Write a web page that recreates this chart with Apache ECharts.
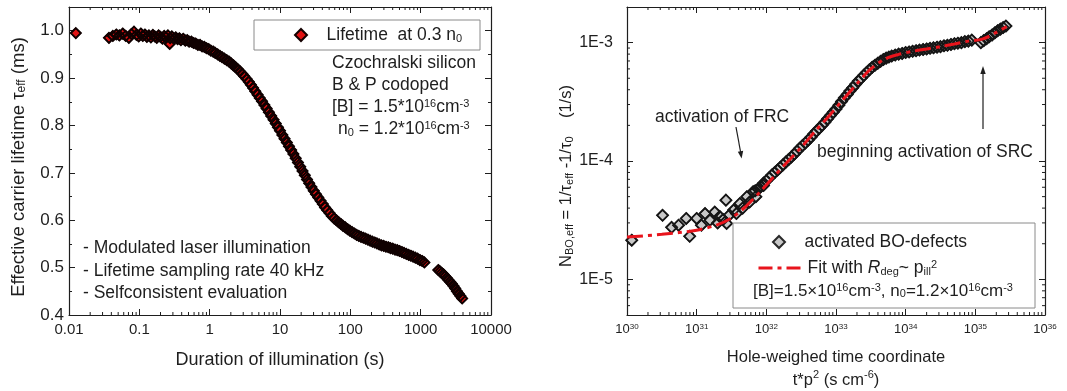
<!DOCTYPE html>
<html><head><meta charset="utf-8">
<script src="https://cdn.jsdelivr.net/npm/echarts@6/dist/echarts.min.js"></script>
<style>html,body{margin:0;padding:0;background:#fff}#c{width:1067px;height:391px}</style>
</head><body><div id="c"></div>
<script>
// ---------- DATA ----------
const leftTime = [0.0125,0.037,0.042,0.047,0.052,0.058,0.064,0.071,0.077,0.084,0.091,0.098,0.105,0.112,0.12,0.128,0.137,0.146,0.156,0.166,0.177,0.188,0.2,0.213,0.226,0.24,0.255,0.27,0.275,0.29,0.31,0.33,0.35,0.37,0.39,0.42,0.45,0.48,0.51,0.55,0.59,0.63,0.68,0.73,0.78,0.84,0.9,0.97,1.04,1.12,1.2,1.3,1.4,1.5,1.62,1.75,1.88,2.02,2.17,2.33,2.5,2.7,2.9,3.1,3.35,3.6,3.85,4.15,4.45,4.8,5.15,5.55,6.0,6.45,6.95,7.5,8.1,8.7,9.35,10.0,10.8,11.6,12.5,13.4,14.4,15.5,16.7,18.0,19.4,20.9,22.5,24.2,26.0,28.0,30.2,32.5,35.0,37.7,40.6,43.7,47.0,50.6,54.5,58.7,63.2,68.0,73.2,78.8,84.9,91.4,98.4,106,114,123,132,142,153,165,178,191,206,222,239,257,277,298,321,346,372,401,432,465,500,540,580,625,675,725,780,840,905,975,1050,1130,1780,1880,1990,2100,2220,2350,2480,2620,2770,2930,3100,3280,3470,3670,3890];
const leftLifetime = [0.995,0.985,0.989,0.992,0.990,0.994,0.989,0.985,0.993,0.998,0.991,0.988,0.994,0.989,0.992,0.987,0.990,0.986,0.991,0.988,0.985,0.990,0.987,0.983,0.989,0.986,0.990,0.972,0.984,0.988,0.983,0.986,0.982,0.984,0.980,0.983,0.979,0.980,0.977,0.977,0.974,0.973,0.970,0.970,0.967,0.966,0.963,0.961,0.958,0.956,0.953,0.950,0.947,0.944,0.941,0.938,0.935,0.931,0.927,0.923,0.919,0.914,0.909,0.904,0.898,0.892,0.886,0.879,0.872,0.865,0.858,0.851,0.843,0.836,0.828,0.820,0.812,0.804,0.796,0.789,0.780,0.772,0.764,0.756,0.748,0.740,0.731,0.722,0.713,0.704,0.695,0.686,0.678,0.670,0.662,0.655,0.648,0.641,0.634,0.627,0.621,0.615,0.609,0.604,0.600,0.596,0.592,0.588,0.585,0.581,0.578,0.575,0.572,0.569,0.567,0.565,0.563,0.561,0.559,0.557,0.555,0.553,0.551,0.549,0.547,0.546,0.544,0.543,0.541,0.540,0.538,0.537,0.535,0.533,0.531,0.529,0.527,0.525,0.523,0.521,0.519,0.516,0.514,0.511,0.495,0.492,0.489,0.486,0.482,0.478,0.474,0.470,0.466,0.461,0.456,0.450,0.445,0.440,0.435];

const rightX = [1.17e30,3.24e30,4.37e30,5.5e30,7.08e30,7.94e30,1.0e31,1.17e31,1.32e31,1.55e31,1.82e31,2.0e31,2.14e31,2.4e31,2.63e31,2.69e31,2.95e31,3.39e31,3.72e31,4.17e31,4.57e31,5.25e31,5.75e31,6.46e31,7.08e31,7.94e31,9.12e31,
6.92e31,7.59e31,8.32e31,9.12e31,1.0e32,1.1e32,1.2e32,1.32e32,1.45e32,1.58e32,1.74e32,1.91e32,2.09e32,2.29e32,2.51e32,2.75e32,3.02e32,3.31e32,3.63e32,3.98e32,4.37e32,4.79e32,5.25e32,5.75e32,6.31e32,6.92e32,7.59e32,8.32e32,9.12e32,
1.0e33,1.1e33,1.2e33,1.32e33,1.45e33,1.58e33,1.74e33,1.91e33,2.09e33,2.29e33,2.51e33,2.75e33,3.02e33,3.31e33,3.63e33,3.98e33,4.37e33,4.79e33,5.25e33,5.75e33,6.31e33,7.08e33,7.94e33,8.91e33,
1.0e34,1.12e34,1.26e34,1.41e34,1.58e34,1.78e34,2.0e34,2.24e34,2.51e34,2.82e34,3.16e34,3.55e34,3.98e34,4.47e34,5.01e34,5.62e34,6.31e34,7.08e34,7.94e34,8.91e34,
1.2e35,1.32e35,1.45e35,1.58e35,1.74e35,1.91e35,2.09e35,2.29e35,2.51e35,2.75e35];
const rightY = [2.14e-5,3.48e-5,2.75e-5,2.87e-5,3.27e-5,2.31e-5,3.27e-5,2.87e-5,3.6e-5,3.16e-5,3.7e-5,3.0e-5,3.4e-5,3.2e-5,4.67e-5,2.97e-5,3.5e-5,3.85e-5,3.6e-5,4.38e-5,4.0e-5,4.99e-5,4.5e-5,5.5e-5,5.0e-5,5.9e-5,6.2e-5,
5.6e-5,5.8e-5,6.1e-5,6.5e-5,6.8e-5,7.2e-5,7.6e-5,8.0e-5,8.4e-5,8.8e-5,9.3e-5,9.8e-5,1.03e-4,1.08e-4,1.14e-4,1.21e-4,1.28e-4,1.35e-4,1.42e-4,1.5e-4,1.59e-4,1.69e-4,1.79e-4,1.89e-4,2.0e-4,2.13e-4,2.27e-4,2.42e-4,2.58e-4,
2.75e-4,2.96e-4,3.18e-4,3.42e-4,3.65e-4,3.9e-4,4.16e-4,4.44e-4,4.73e-4,5.0e-4,5.3e-4,5.6e-4,5.9e-4,6.2e-4,6.45e-4,6.7e-4,6.95e-4,7.2e-4,7.4e-4,7.55e-4,7.7e-4,7.85e-4,8.0e-4,8.1e-4,
8.25e-4,8.35e-4,8.45e-4,8.55e-4,8.65e-4,8.75e-4,8.85e-4,8.95e-4,9.05e-4,9.15e-4,9.25e-4,9.4e-4,9.5e-4,9.65e-4,9.8e-4,9.9e-4,1.0e-3,1.02e-3,1.03e-3,1.05e-3,
1.0e-3,1.04e-3,1.08e-3,1.12e-3,1.16e-3,1.21e-3,1.26e-3,1.3e-3,1.34e-3,1.38e-3];

const fitX = [1e30,3.16e30,1e31,2e31,3.16e31,5e31,7.94e31,1.26e32,2e32,3.16e32,5e32,7.94e32,1.26e33,2e33,3.16e33,5e33,7.94e33,1.26e34,2e34,3.16e34,5e34,7.94e34,1.26e35,2e35,2.82e35];
const fitY = [2.28e-5,2.4e-5,2.6e-5,2.9e-5,3.3e-5,4.1e-5,5.4e-5,7.3e-5,9.8e-5,1.3e-4,1.78e-4,2.4e-4,3.3e-4,4.5e-4,6.0e-4,7.25e-4,7.95e-4,8.45e-4,8.85e-4,9.25e-4,9.75e-4,1.03e-3,1.07e-3,1.22e-3,1.37e-3];

const leftXTickLabels = ['0.01','0.1','1','10','100','1000','10000'];   // 10^-2 .. 10^4
const leftYTickLabels = ['0.4','0.5','0.6','0.7','0.8','0.9','1.0'];
const rightXTickExps = [30,31,32,33,34,35,36];
const rightYTickLabels = {'-5':'1E-5','-4':'1E-4','-3':'1E-3'};

// ---------- STYLE ----------
const FONT = '"Liberation Sans", Arial, sans-serif';
const AX = '#1e1e1e';
const TXT = '#1e1e1e';
const TFS = 17.5; // annotation font size
const RED = '#e8141c';

function logMinor(e0, e1, lo, hi) {
  const out = [];
  for (let e = e0; e <= e1; e++) for (let m = 2; m <= 9; m++) {
    const v = m * Math.pow(10, e);
    if (v > lo && v < hi) out.push(v);
  }
  return out;
}
const leftXMinor = logMinor(-2, 3, 0.01, 10000);
const rightXMinor = logMinor(30, 35, 1e30, 1e36);
const rightYMinor = logMinor(-6, -3, 5e-6, 2e-3);

const richC = (fs) => ({
  sup: {fontSize: Math.round(fs*0.64), fontFamily: FONT, color: TXT, verticalAlign: 'top', padding: [0,0,Math.round(fs*0.2),0]},
  sub: {fontSize: Math.round(fs*0.64), fontFamily: FONT, color: TXT, verticalAlign: 'bottom', padding: [Math.round(fs*0.25),0,0,0]},
  it: {fontSize: fs, fontFamily: FONT, color: TXT, fontStyle: 'italic'}
});
const richG = (fs) => ({
  sup: {font: Math.round(fs*0.64) + 'px ' + FONT, fill: TXT, verticalAlign: 'top', padding: [0,0,Math.round(fs*0.2),0]},
  sub: {font: Math.round(fs*0.64) + 'px ' + FONT, fill: TXT, verticalAlign: 'bottom', padding: [Math.round(fs*0.25),0,0,0]}
});

function isPow(v) { const e = Math.log10(v); return Math.abs(e - Math.round(e)) < 1e-6; }

const tickMaj = {show: true, inside: true, length: 6, lineStyle: {color: AX, width: 1}};
const axLine = {show: true, onZero: false, lineStyle: {color: AX, width: 1.2}};

const chart = echarts.init(document.getElementById('c'), null, {renderer: 'canvas'});

function xMinorRender(params, api) {
  const cs = params.coordSys;
  const x = api.coord([api.value(0), api.value(1)])[0];
  const b = cs.y + cs.height, t = cs.y;
  return {type: 'group', children: [
    {type: 'line', shape: {x1: x, y1: b, x2: x, y2: b - 3}, style: {stroke: AX, lineWidth: 1}},
    {type: 'line', shape: {x1: x, y1: t, x2: x, y2: t + 3}, style: {stroke: AX, lineWidth: 1}}
  ]};
}
function yMinorRender(params, api) {
  const cs = params.coordSys;
  const y = api.coord([api.value(0), api.value(1)])[1];
  const l = cs.x, r = cs.x + cs.width;
  return {type: 'group', children: [
    {type: 'line', shape: {x1: l, y1: y, x2: l + 3, y2: y}, style: {stroke: AX, lineWidth: 1}},
    {type: 'line', shape: {x1: r, y1: y, x2: r - 3, y2: y}, style: {stroke: AX, lineWidth: 1}}
  ]};
}
const txt = (x, y, text, fs, rich) => ({type: 'text', z: 210, x: x, y: y,
  style: {text: text, font: fs + 'px ' + FONT, fill: TXT, verticalAlign: 'middle', rich: rich || richG(fs)}});

const FIT_DASH = [16, 5, 4, 5];
const leftPts = leftTime.map((t, i) => [t, leftLifetime[i]]);
const rightPts = rightX.map((x, i) => [x, rightY[i]]);

const option = {
  animation: false,
  backgroundColor: '#fff',
  textStyle: {fontFamily: FONT, color: TXT},
  grid: [
    {left: 69, right: 576, top: 7, bottom: 76, outerBoundsMode: 'none', containLabel: false},
    {left: 627, right: 22, top: 7, bottom: 76, outerBoundsMode: 'none', containLabel: false}
  ],
  xAxis: [
    {gridIndex: 0, type: 'log', logBase: 10, min: 0.01, max: 10000, position: 'bottom',
     axisLine: axLine, axisTick: tickMaj, splitLine: {show: false}, minorTick: {show: false},
     axisLabel: {fontSize: 15, color: TXT, fontFamily: FONT, margin: 7,
       formatter: v => isPow(v) ? leftXTickLabels[Math.round(Math.log10(v)) + 2] : ''},
     name: 'Duration of illumination (s)', nameLocation: 'middle', nameGap: 36,
     nameTextStyle: {fontSize: 18, color: TXT, fontFamily: FONT}},
    {gridIndex: 0, type: 'log', logBase: 10, min: 0.01, max: 10000, position: 'top',
     axisLine: axLine, axisTick: tickMaj, splitLine: {show: false}, axisLabel: {show: false}},
    {gridIndex: 1, type: 'log', logBase: 10, min: 1e30, max: 1e36, position: 'bottom',
     axisLine: axLine, axisTick: tickMaj, splitLine: {show: false}, minorTick: {show: false},
     axisLabel: {fontSize: 13, color: TXT, fontFamily: FONT, margin: 8, rich: richC(13),
       formatter: v => isPow(v) ? '10{sup|' + rightXTickExps[Math.round(Math.log10(v)) - 30] + '}' : ''},
     name: 'Hole-weighed time coordinate\nt*p{sup|2} (s cm{sup|-6})', nameLocation: 'middle', nameGap: 31,
     nameTextStyle: {fontSize: 16.5, color: TXT, fontFamily: FONT, lineHeight: 23, rich: richC(16.5)}},
    {gridIndex: 1, type: 'log', logBase: 10, min: 1e30, max: 1e36, position: 'top',
     axisLine: axLine, axisTick: tickMaj, splitLine: {show: false}, axisLabel: {show: false}}
  ],
  yAxis: [
    {gridIndex: 0, type: 'value', min: 0.4, max: 1.05, interval: 0.1, position: 'left',
     axisLine: axLine, axisTick: tickMaj, splitLine: {show: false},
     minorTick: {show: true, splitNumber: 2, length: 3, lineStyle: {color: AX, width: 1}},
     axisLabel: {fontSize: 17, color: TXT, fontFamily: FONT, margin: 5,
       formatter: v => { const i = Math.round((v - 0.4) * 10); return Math.abs(v - (0.4 + i * 0.1)) < 1e-6 ? leftYTickLabels[i] : ''; }},
     name: 'Effective carrier lifetime \u03c4{sub|eff} (ms)', nameLocation: 'middle', nameRotate: 90, nameGap: 41,
     nameTextStyle: {fontSize: 18.5, color: TXT, fontFamily: FONT, rich: richC(18.5), padding: [0, 12, 0, 0]}},
    {gridIndex: 0, type: 'value', min: 0.4, max: 1.05, interval: 0.1, position: 'right',
     axisLine: axLine, axisTick: tickMaj, splitLine: {show: false},
     minorTick: {show: true, splitNumber: 2, length: 3, lineStyle: {color: AX, width: 1}},
     axisLabel: {show: false}},
    {gridIndex: 1, type: 'log', logBase: 10, min: 5e-6, max: 2e-3, position: 'left',
     axisLine: axLine, axisTick: tickMaj, splitLine: {show: false}, minorTick: {show: false},
     axisLabel: {fontSize: 16, color: TXT, fontFamily: FONT, margin: 14,
       formatter: v => isPow(v) ? (rightYTickLabels[String(Math.round(Math.log10(v)))] || '') : ''},
     name: 'N{sub|BO,eff} = 1/\u03c4{sub|eff} -1/\u03c4{sub|0}    (1/s)', nameLocation: 'middle', nameRotate: 90, nameGap: 45,
     nameTextStyle: {fontSize: 16.5, color: TXT, fontFamily: FONT, rich: richC(16.5), padding: [0, 30, 0, 0]}},
    {gridIndex: 1, type: 'log', logBase: 10, min: 5e-6, max: 2e-3, position: 'right',
     axisLine: axLine, axisTick: tickMaj, splitLine: {show: false}, axisLabel: {show: false}}
  ],
  legend: [
    {left: 289, top: 21, itemWidth: 12, itemHeight: 12, z: 210, selectedMode: false,
     data: [{name: 'Lifetime at 0.3 n0', icon: 'diamond'}],
     formatter: () => '   Lifetime  at 0.3 n{sub|0}',
     textStyle: {fontSize: TFS, color: TXT, fontFamily: FONT, rich: richC(TFS)}},
    {left: 767, top: 228, itemWidth: 12, itemHeight: 12, z: 210, selectedMode: false,
     data: [{name: 'activated BO-defects', icon: 'diamond'}],
     formatter: n => '   ' + n,
     textStyle: {fontSize: TFS, color: TXT, fontFamily: FONT, rich: richC(TFS)}},
    {left: 752, top: 254, itemWidth: 44, itemHeight: 12, z: 210, selectedMode: false,
     data: [{name: 'Fit with Rdeg ~ pill2', itemStyle: {opacity: 0}}],
     lineStyle: {width: 3, color: RED, type: [14, 5, 4, 5]},
     formatter: () => 'Fit with {it|R}{sub|deg}~ p{sub|ill}{sup|2}',
     textStyle: {fontSize: TFS, color: TXT, fontFamily: FONT, rich: richC(TFS)}}
  ],
  series: [
    {name: 'Lifetime at 0.3 n0', type: 'scatter', xAxisIndex: 0, yAxisIndex: 0,
     symbol: 'diamond', symbolSize: 10, z: 3,
     itemStyle: {color: '#e01212', borderColor: '#140000', borderWidth: 1.2, opacity: 1},
     data: leftPts},
    {name: 'lifetime outline', type: 'scatter', xAxisIndex: 0, yAxisIndex: 0,
     symbol: 'diamond', symbolSize: 10, z: 4, silent: true,
     itemStyle: {color: 'rgba(0,0,0,0)', borderColor: '#100000', borderWidth: 1.9, opacity: 1},
     data: leftPts},
    {name: 'activated BO-defects', type: 'scatter', xAxisIndex: 2, yAxisIndex: 2,
     symbol: 'diamond', symbolSize: 11, z: 3,
     itemStyle: {color: '#c8c8c8', borderColor: '#2a2a2a', borderWidth: 1.3, opacity: 1},
     data: rightPts},
    {name: 'BO outline', type: 'scatter', xAxisIndex: 2, yAxisIndex: 2,
     symbol: 'diamond', symbolSize: 11, z: 4, silent: true,
     itemStyle: {color: 'rgba(0,0,0,0)', borderColor: '#161616', borderWidth: 1.8, opacity: 1},
     data: rightPts},
    {name: 'Fit with Rdeg ~ pill2', type: 'line', xAxisIndex: 2, yAxisIndex: 2, smooth: 0.3,
     symbol: 'none', z: 5, color: RED,
     lineStyle: {color: RED, width: 3, type: FIT_DASH},
     data: fitX.map((x, i) => [x, fitY[i]])},
    {type: 'custom', xAxisIndex: 0, yAxisIndex: 0, silent: true, z: 6, renderItem: xMinorRender,
     data: leftXMinor.map(v => [v, 0.5])},
    {type: 'custom', xAxisIndex: 2, yAxisIndex: 2, silent: true, z: 6, renderItem: xMinorRender,
     data: rightXMinor.map(v => [v, 1e-4])},
    {type: 'custom', xAxisIndex: 2, yAxisIndex: 2, silent: true, z: 6, renderItem: yMinorRender,
     data: rightYMinor.map(v => [1e33, v])}
  ],
  graphic: [
    {type: 'rect', z: 200, shape: {x: 254, y: 20, width: 226, height: 30},
     style: {fill: '#fff', stroke: '#8a8a8a', lineWidth: 1}},
    {type: 'rect', z: 200, shape: {x: 733, y: 223, width: 302, height: 85},
     style: {fill: '#fff', stroke: '#8a8a8a', lineWidth: 1}},
    txt(753, 291, '[B]=1.5\u00d710{sup|16}cm{sup|-3}, n{sub|0}=1.2\u00d710{sup|16}cm{sup|-3}', 17),
    txt(332, 63, 'Czochralski silicon', TFS),
    txt(332, 85, 'B & P codoped', TFS),
    txt(332, 107, '[B] = 1.5*10{sup|16}cm{sup|-3}', TFS),
    txt(338, 129, 'n{sub|0} = 1.2*10{sup|16}cm{sup|-3}', TFS),
    txt(83, 248, '- Modulated laser illumination', TFS),
    txt(83, 271, '- Lifetime sampling rate 40 kHz', TFS),
    txt(83, 293, '- Selfconsistent evaluation', TFS),
    txt(655, 117, 'activation of FRC', TFS),
    txt(817, 152, 'beginning activation of SRC', TFS),
    {type: 'line', z: 210, shape: {x1: 736, y1: 127, x2: 740.6, y2: 152}, style: {stroke: TXT, lineWidth: 1.2}},
    {type: 'polygon', z: 210, shape: {points: [[743.2, 150.7], [737.8, 151.7], [741.6, 158.5]]}, style: {fill: TXT}},
    {type: 'line', z: 210, shape: {x1: 983, y1: 129, x2: 983, y2: 72}, style: {stroke: TXT, lineWidth: 1.2}},
    {type: 'polygon', z: 210, shape: {points: [[980.3, 74], [985.7, 74], [983, 66]]}, style: {fill: TXT}}
  ]
};
chart.setOption(option);
</script></body></html>
